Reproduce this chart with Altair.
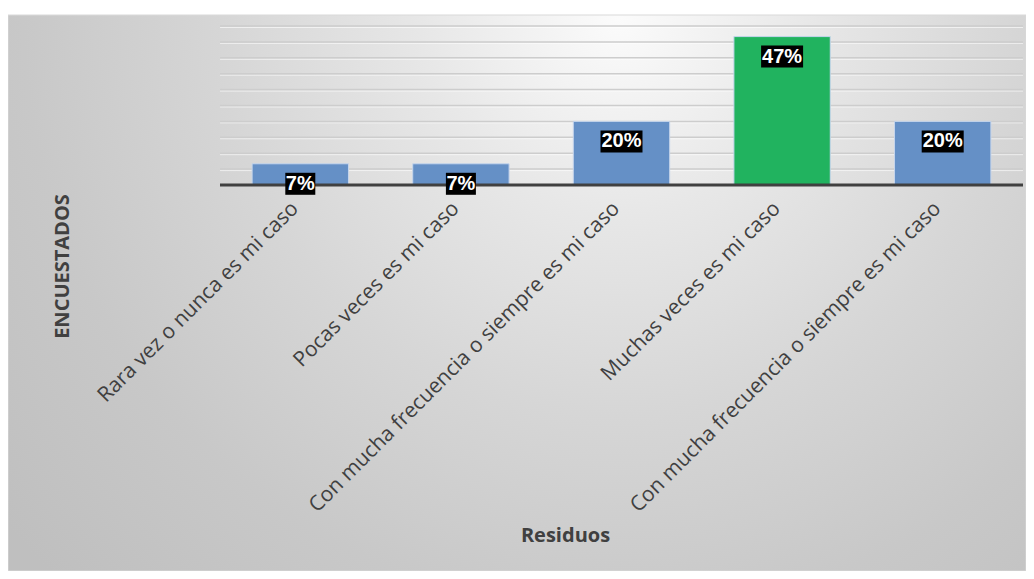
import json
import altair as alt
import pandas as pd

# ---- data ----
CATEGORIES = [
    "Rara vez o nunca es mi caso",
    "Pocas veces es mi caso",
    "Con mucha frecuencia o siempre es mi caso",
    "Muchas veces es mi caso",
    "Con mucha frecuencia o siempre es mi caso",
]
VALUES = [0.0667, 0.0667, 0.20, 0.4667, 0.20]
GRID_TICKS = [0.05, 0.10, 0.15, 0.20, 0.25, 0.30, 0.35, 0.40, 0.45, 0.50]
BASELINE = [0.0]
X_TITLE = "Residuos"
Y_TITLE = "ENCUESTADOS"
HIGHLIGHT_INDEX = 3

df = pd.DataFrame({"idx": list(range(len(CATEGORIES))), "value": VALUES})
grid_df = pd.DataFrame({"t": GRID_TICKS})
base_df = pd.DataFrame({"t": BASELINE})
bg_df = pd.DataFrame({"a": [0]})

W, H = 803, 159
BLUE = "#6590c6"
GREEN = "#21b35f"
TXT = "#404040"
FONT = "Open Sans"

label_expr = json.dumps(CATEGORIES) + "[datum.value]"

x_enc = alt.X(
    "idx:O",
    scale=alt.Scale(paddingInner=0.4, paddingOuter=0.2),
    axis=alt.Axis(
        title=X_TITLE,
        labelExpr=label_expr,
        labelAngle=-45,
        labelAlign="right",
        labelBaseline="middle",
        labelPadding=20,
        labelOffset=-5,
        labelLimit=1000,
        labelOverlap=False,
        labelFont=FONT,
        labelFontSize=21,
        labelColor=TXT,
        ticks=False,
        grid=False,
        domain=False,
        titleFont=FONT,
        titleFontSize=20,
        titleFontWeight="bold",
        titleColor=TXT,
        titleX=345,
        titleY=350,
        titleAlign="center",
        titleBaseline="middle",
        zindex=1,
    ),
)
y_scale = alt.Scale(domain=[0, 0.5], nice=False)
y_enc = alt.Y(
    "value:Q",
    scale=y_scale,
    axis=alt.Axis(
        title=Y_TITLE,
        labels=False,
        ticks=False,
        domain=False,
        grid=False,
        titleFont=FONT,
        titleFontSize=20,
        titleFontWeight="bold",
        titleColor=TXT,
        titleX=-158,
        titleY=240,
        titleAngle=-90,
        titleAlign="center",
        titleBaseline="middle",
        zindex=1,
    ),
)

gradient = {
    "gradient": "radial",
    "x1": 0.6, "y1": 0.23, "r1": 0,
    "x2": 0.6, "y2": 0.23, "r2": 0.78,
    "stops": [
        {"offset": 0.0, "color": "#fbfbfb"},
        {"offset": 0.25, "color": "#e7e7e7"},
        {"offset": 0.5, "color": "#d6d6d6"},
        {"offset": 0.75, "color": "#c8c8c8"},
        {"offset": 1.0, "color": "#bfbfbf"},
    ],
}

bg = alt.Chart(bg_df).mark_rect(fill=gradient, stroke="#d9d9d9", strokeWidth=1).encode(
    x=alt.value(-212), x2=alt.value(806), y=alt.value(-11), y2=alt.value(545)
)

grid_hi = alt.Chart(grid_df).mark_rule(color="#ffffff", strokeWidth=1, opacity=0.6, yOffset=1.5).encode(
    y=alt.Y("t:Q", scale=y_scale)
)
grid = alt.Chart(grid_df).mark_rule(color="#cdcdcd", strokeWidth=1.5).encode(
    y=alt.Y("t:Q", scale=y_scale)
)

bars = alt.Chart(df).mark_bar(stroke="#c5d5ec", strokeWidth=1).encode(
    x=x_enc,
    y=y_enc,
    color=alt.condition(alt.datum.idx == HIGHLIGHT_INDEX, alt.value(GREEN), alt.value(BLUE)),
)

baseline = alt.Chart(base_df).mark_rule(color=TXT, strokeWidth=3).encode(
    y=alt.Y("t:Q", scale=y_scale)
)

box_small = alt.Chart(df).transform_filter("datum.value < 0.095").mark_bar(
    color="black", width=30, yOffset=9, y2Offset=31
).encode(x="idx:O", y="value:Q", y2="value:Q")

box_big = alt.Chart(df).transform_filter("datum.value >= 0.095").mark_bar(
    color="black", width=42, yOffset=9, y2Offset=31
).encode(x="idx:O", y="value:Q", y2="value:Q")

labels = alt.Chart(df).mark_text(
    color="white", fontWeight="bold", fontSize=20,
    font="Liberation Sans", baseline="middle", dy=20
).encode(x="idx:O", y="value:Q", text=alt.Text("value:Q", format=".0%"))

chart = alt.layer(bg, grid_hi, grid, bars, baseline, box_small, box_big, labels).properties(
    width=W, height=H,
    autosize=alt.AutoSizeParams(type="none"),
    padding={"left": 212, "top": 18, "right": 3, "bottom": 386},
    background="white",
).configure_view(stroke=None)

chart.save("out.html", embed_options={"renderer": "svg", "actions": False})
